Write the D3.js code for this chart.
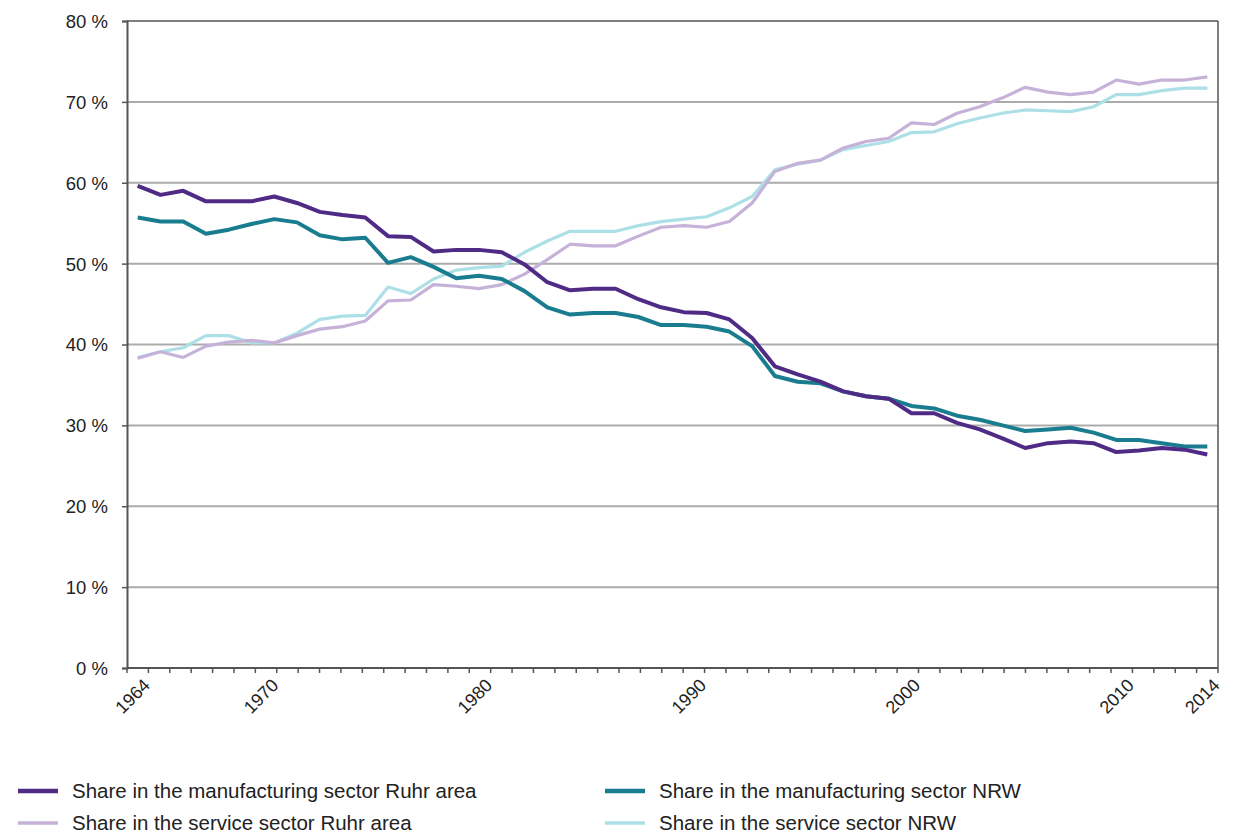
<!DOCTYPE html>
<html>
<head>
<meta charset="utf-8">
<script src="https://cdn.jsdelivr.net/npm/d3@7/dist/d3.min.js"></script>
<style>
  html, body { margin: 0; padding: 0; background: #fff; }
  svg { display: block; }
  text { font-family: "Liberation Sans", Arial, sans-serif; fill: #222; }
</style>
</head>
<body>
<svg id="chart" width="1235" height="835"></svg>
<script>
// Category years shown on the x axis
const years = d3.range(1964, 2015);
const yearLabels = [1964, 1970, 1980, 1990, 2000, 2010, 2014];
const yTicks = [0, 10, 20, 30, 40, 50, 60, 70, 80];

// Series values (%), evenly spaced from 1964 to 2014
const mfgRuhr = [59.6, 58.5, 59.0, 57.7, 57.7, 57.7, 58.3, 57.5, 56.4, 56.0, 55.7, 53.4, 53.3, 51.5, 51.7, 51.7,
  51.4, 49.9, 47.7, 46.7, 46.9, 46.9, 45.6, 44.6, 44.0, 43.9, 43.1, 40.8, 37.3, 36.3, 35.4, 34.2,
  33.6, 33.3, 31.5, 31.5, 30.3, 29.5, 28.4, 27.2, 27.8, 28.0, 27.8, 26.7, 26.9, 27.2, 27.0, 26.4];
const mfgNRW = [55.7, 55.2, 55.2, 53.7, 54.2, 54.9, 55.5, 55.1, 53.5, 53.0, 53.2, 50.1, 50.8, 49.6, 48.2, 48.5,
  48.1, 46.6, 44.6, 43.7, 43.9, 43.9, 43.4, 42.4, 42.4, 42.2, 41.6, 39.8, 36.1, 35.4, 35.2, 34.2,
  33.6, 33.3, 32.4, 32.1, 31.2, 30.7, 30.0, 29.3, 29.5, 29.7, 29.1, 28.2, 28.2, 27.8, 27.4, 27.4];
const svcRuhr = [38.3, 39.1, 38.4, 39.8, 40.3, 40.5, 40.2, 41.1, 41.9, 42.2, 42.9, 45.4, 45.5, 47.4, 47.2, 46.9,
  47.4, 48.7, 50.5, 52.4, 52.2, 52.2, 53.4, 54.5, 54.7, 54.5, 55.2, 57.5, 61.4, 62.4, 62.8, 64.3,
  65.1, 65.5, 67.4, 67.2, 68.6, 69.4, 70.5, 71.8, 71.2, 70.9, 71.2, 72.7, 72.2, 72.7, 72.7, 73.1];
const svcNRW = [38.4, 39.1, 39.6, 41.1, 41.1, 40.2, 40.2, 41.4, 43.1, 43.5, 43.6, 47.1, 46.3, 48.1, 49.2, 49.5,
  49.7, 51.4, 52.8, 54.0, 54.0, 54.0, 54.7, 55.2, 55.5, 55.8, 56.9, 58.3, 61.6, 62.3, 62.8, 64.1,
  64.6, 65.1, 66.2, 66.3, 67.3, 68.0, 68.6, 69.0, 68.9, 68.8, 69.4, 70.9, 70.9, 71.4, 71.7, 71.7];

const seriesNames = [
  "Share in the manufacturing sector Ruhr area",
  "Share in the manufacturing sector NRW",
  "Share in the service sector Ruhr area",
  "Share in the service sector NRW"
];
const seriesColors = ["#4f2b86", "#1a7d8f", "#c6b2d9", "#ade0e6"];

const series = [
  { name: seriesNames[0], values: mfgRuhr, color: seriesColors[0], w: 4 },
  { name: seriesNames[1], values: mfgNRW, color: seriesColors[1], w: 4 },
  { name: seriesNames[2], values: svcRuhr, color: seriesColors[2], w: 3.2 },
  { name: seriesNames[3], values: svcNRW, color: seriesColors[3], w: 3.2 }
];

const svg = d3.select("#chart");
const L = 127, R = 1218, T = 21, B = 668;

const xBand = d3.scaleBand().domain(years).range([L, R]).paddingInner(0).paddingOuter(0);
const bw = xBand.bandwidth();
const y = d3.scaleLinear().domain([0, 80]).range([B, T]);

// x position of data points: spread from centre of first to centre of last category
const nPts = mfgRuhr.length;
const xPt = d3.scaleLinear().domain([0, nPts - 1])
  .range([xBand(years[0]) + bw / 2, xBand(years[years.length - 1]) + bw / 2]);

// gridlines
svg.append("g").selectAll("line").data(yTicks.filter(t => t > 0 && t < 80)).join("line")
  .attr("x1", L).attr("x2", R)
  .attr("y1", d => y(d)).attr("y2", d => y(d))
  .attr("stroke", "#ababab").attr("stroke-width", 2);

// frame top / right
svg.append("line").attr("x1", L).attr("x2", R).attr("y1", y(80)).attr("y2", y(80))
  .attr("stroke", "#555").attr("stroke-width", 1.5);
svg.append("line").attr("x1", R).attr("x2", R).attr("y1", T).attr("y2", B)
  .attr("stroke", "#555").attr("stroke-width", 1.5);

// y axis
const yAxis = d3.axisLeft(y).tickValues(yTicks).tickSize(5).tickFormat(d => d + " %");
const gy = svg.append("g").attr("transform", `translate(${L},0)`).call(yAxis);
gy.select(".domain").attr("stroke", "#555").attr("stroke-width", 2);
gy.selectAll(".tick line").attr("stroke", "#555").attr("stroke-width", 1.5);
gy.selectAll(".tick text").attr("x", -19).attr("dy", "0.35em")
  .style("font-size", "18.5px").style("font-family", "Liberation Sans, Arial, sans-serif").attr("fill", "#222");

// x axis (ticks at category boundaries)
const gx = svg.append("g");
gx.append("line").attr("x1", L).attr("x2", R).attr("y1", B).attr("y2", B)
  .attr("stroke", "#555").attr("stroke-width", 2);
const boundaries = years.map(yv => xBand(yv)).concat([R]);
gx.selectAll("line.tk").data(boundaries).join("line").attr("class", "tk")
  .attr("x1", d => d).attr("x2", d => d).attr("y1", B).attr("y2", B + 5)
  .attr("stroke", "#555").attr("stroke-width", 1.5);
gx.selectAll("text").data(yearLabels).join("text")
  .attr("transform", d => `translate(${xBand(d) + bw / 2 + 9},${B + 14}) rotate(-45)`)
  .attr("text-anchor", "end").attr("dy", "0.35em")
  .style("font-size", "18px")
  .text(d => d);

// lines (light ones first, the dark ones lie on top)
const line = d3.line().x((d, i) => xPt(i)).y(d => y(d));
const drawOrder = [series[3], series[2], series[1], series[0]];
svg.append("g").selectAll("path").data(drawOrder).join("path")
  .attr("d", d => line(d.values))
  .attr("fill", "none")
  .attr("stroke", d => d.color)
  .attr("stroke-width", d => d.w)
  .attr("stroke-linejoin", "round");

// legend
const legPos = [[18, 791], [605, 791], [18, 823], [605, 823]];
const lg = svg.append("g").selectAll("g").data(series).join("g")
  .attr("transform", (d, i) => `translate(${legPos[i][0]},${legPos[i][1]})`);
lg.append("line").attr("x1", 0).attr("x2", 40).attr("y1", 0).attr("y2", 0)
  .attr("stroke", d => d.color).attr("stroke-width", d => d.w + 0.5);
lg.append("text").attr("x", 54).attr("dy", "0.35em")
  .style("font-size", "20.5px").text(d => d.name);
</script>
</body>
</html>
